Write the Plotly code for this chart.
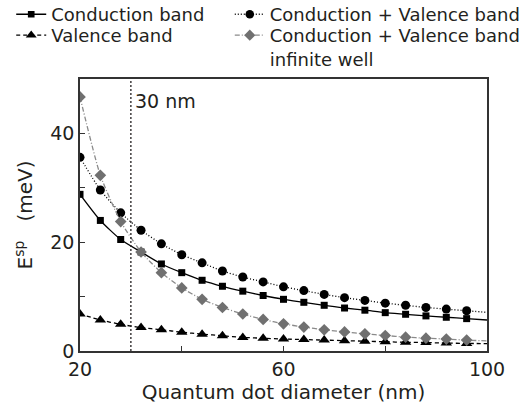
import plotly.graph_objects as go

# Quantum dot diameters (nm) at which the energies were computed
diameter = [20, 24, 28, 32, 36, 40, 44, 48, 52, 56, 60, 64, 68, 72, 76, 80, 84, 88, 92, 96]

# Single-particle energy splitting E^sp (meV)
conduction = [28.8, 24.0, 20.5, 18.2, 16.0, 14.4, 13.0, 11.9, 11.0, 10.2,
              9.5, 8.95, 8.4, 7.9, 7.5, 7.05, 6.75, 6.45, 6.2, 5.95]
cond_valence = [35.6, 29.6, 25.4, 22.2, 19.7, 17.7, 16.2, 14.7, 13.6, 12.7,
                11.8, 11.1, 10.4, 9.8, 9.3, 8.8, 8.4, 8.0, 7.7, 7.4]
valence = [6.8, 5.7, 4.9, 4.3, 3.9, 3.45, 3.1, 2.8, 2.5, 2.35,
           2.2, 2.1, 2.0, 1.9, 1.8, 1.7, 1.6, 1.55, 1.45, 1.4]
infinite_well = [46.7, 32.3, 23.8, 18.2, 14.4, 11.6, 9.5, 8.0, 6.8, 5.8,
                 5.0, 4.4, 3.9, 3.5, 3.15, 2.85, 2.55, 2.35, 2.2, 2.0]

# Fitted curves continue to the edge of the axis
curve_end_x = 100
curve_end = {"conduction": 5.7, "cond_valence": 7.1, "valence": 1.35, "infinite_well": 1.85}

marker_line = 30  # vertical reference diameter (nm)

FONT = "DejaVu Sans"
INK = "#231f20"
BLACK = "#000000"

# name, values, curve end, dash, marker symbol, marker size, line colour, marker colour, legend id
series = [
    ("Conduction band", conduction, curve_end["conduction"], "solid", "square", 7,
     BLACK, BLACK, "legend5"),
    ("Valence band", valence, curve_end["valence"], "4px,3px", "triangle-up", 10,
     BLACK, BLACK, "legend2"),
    ("Conduction + Valence band", cond_valence, curve_end["cond_valence"], "1px,2px", "circle", 9,
     BLACK, BLACK, "legend3"),
    ("Conduction + Valence band<br>infinite well", infinite_well, curve_end["infinite_well"],
     "5px,2px,1px,2px", "diamond", 9, "#8a8a8a", "#707070", "legend4"),
]

fig = go.Figure()
for name, ys, end, dash, symbol, size, lcol, mcol, leg in series:
    xs = diameter + [curve_end_x]
    yv = ys + [end]
    sizes = [size] * len(ys) + [0]
    fig.add_trace(go.Scatter(
        x=xs, y=yv, name=name, mode="lines+markers", legend=leg,
        line=dict(color=lcol, width=1.3, dash=dash, shape="spline", smoothing=0.6),
        marker=dict(symbol=symbol, size=sizes, color=mcol, opacity=1, line=dict(width=0)),
    ))

fig.add_shape(type="line", x0=marker_line, x1=marker_line, y0=0, y1=1,
              xref="x", yref="paper", line=dict(color=INK, width=1.3, dash="2px,2px"))
fig.add_annotation(x=marker_line, y=46, xref="x", yref="y", text="30 nm",
                   showarrow=False, xanchor="left", xshift=2,
                   font=dict(family=FONT, size=19, color=INK))

axis_common = dict(showline=True, linecolor="#333333", linewidth=1.5, mirror=True,
                   ticks="inside", ticklen=5, tickcolor="#333333", showgrid=False,
                   zeroline=False, tickfont=dict(family=FONT, size=19, color=INK))

fig.update_xaxes(range=[20, 100], tickvals=[20, 60, 100],
                 minor=dict(tickvals=[40, 80], ticks="inside", ticklen=5, tickcolor="#333333"),
                 title=dict(text="Quantum dot diameter (nm)", font=dict(family=FONT, size=20, color=INK),
                            standoff=5),
                 **axis_common)
fig.update_yaxes(range=[0, 50], tickvals=[0, 20, 40],
                 minor=dict(tickvals=[10, 30, 50], ticks="inside", ticklen=5, tickcolor="#333333"),
                 title=dict(text="E<sup>sp</sup>&nbsp;&nbsp;&nbsp;(meV)",
                            font=dict(family=FONT, size=20, color=INK), standoff=12),
                 **axis_common)

legend_common = dict(orientation="v", xanchor="left", yanchor="top", valign="top",
                     font=dict(family=FONT, size=18, color=INK),
                     tracegroupgap=0, itemwidth=30, bgcolor="rgba(0,0,0,0)",
                     borderwidth=0)

row1, row2 = 1.305, 1.228
col1, col2 = -0.169, 0.368

fig.update_layout(
    width=531, height=408,
    margin=dict(l=80, r=44, t=79, b=57, autoexpand=False),
    paper_bgcolor="white", plot_bgcolor="white",
    font=dict(family=FONT, color=INK),
    legend5=dict(x=col1, y=row1, **legend_common),
    legend2=dict(x=col1, y=row2, **legend_common),
    legend3=dict(x=col2, y=row1, **legend_common),
    legend4=dict(x=col2, y=row2, **legend_common),
)

fig.write_html("out.html")
